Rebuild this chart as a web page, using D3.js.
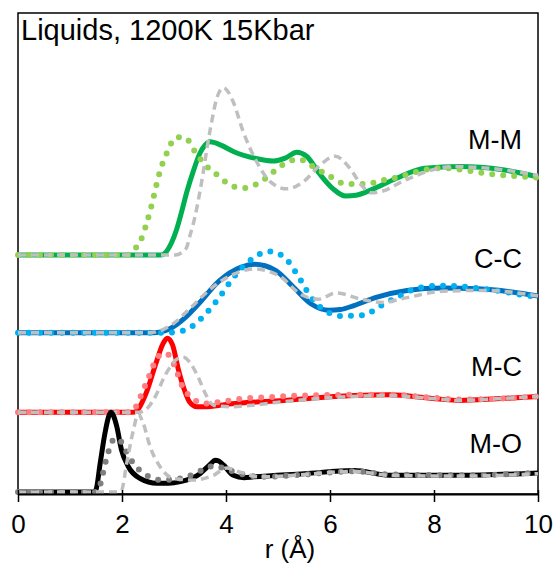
<!DOCTYPE html>
<html>
<head>
<meta charset="utf-8">
<script src="https://cdn.jsdelivr.net/npm/d3@7"></script>
<style>
  html, body { margin: 0; padding: 0; background: #fff; }
  svg { display: block; font-family: "Liberation Sans", Arial, sans-serif; }
</style>
</head>
<body>
<svg id="chart" width="555" height="567"></svg>
<script>
// ---------------- data (r in Å, value relative to panel baseline) ----------------
const xTicks = [0, 2, 4, 6, 8, 10];
const titleText = "Liquids, 1200K 15Kbar";
const xTitle = "r (Å)";
const panelLabels = ["M-O", "M-C", "C-C", "M-M"];
const panelOffsets = [0, 1, 2, 2.975];
const labelLevels = [0.49, 1.456, 2.81, 4.305];

// M-O
const moSolid = [[0,0],[1.45,0],[1.5,0.03],[1.58,0.36],[1.67,0.73],[1.75,0.96],[1.79,1.0],[1.84,0.95],[1.9,0.82],[1.99,0.53],[2.12,0.32],[2.35,0.17],[2.67,0.11],[2.9,0.11],[3.12,0.13],[3.5,0.23],[3.7,0.35],[3.79,0.4],[3.86,0.39],[3.95,0.34],[4.14,0.21],[4.35,0.18],[4.53,0.19],[5.5,0.23],[6.46,0.27],[7.14,0.21],[8.5,0.21],[10,0.24]];
const moDotted = [[0,0],[1.5,0],[1.55,0.04],[1.71,0.44],[1.83,0.65],[1.93,0.67],[2.06,0.53],[2.22,0.36],[2.47,0.21],[2.79,0.15],[3.24,0.19],[3.63,0.30],[3.76,0.33],[3.9,0.31],[4.08,0.27],[4.4,0.21],[4.72,0.19],[5.5,0.22],[6.46,0.26],[7.14,0.22],[8.5,0.21],[10,0.24]];
const moDashed = [[0,0],[1.92,0],[1.99,0.02],[2.09,0.36],[2.22,0.78],[2.31,0.98],[2.41,0.86],[2.54,0.57],[2.73,0.32],[2.99,0.17],[3.37,0.15],[3.76,0.21],[4.01,0.30],[4.27,0.25],[4.65,0.19],[5.5,0.22],[6.46,0.26],[7.14,0.21],[8.5,0.2],[10,0.23]];

// M-C
const mcSolid = [[0,0],[2.2,0],[2.27,0.01],[2.35,0.08],[2.47,0.25],[2.65,0.61],[2.78,0.85],[2.87,0.93],[2.97,0.85],[3.08,0.55],[3.19,0.3],[3.3,0.13],[3.44,0.07],[3.6,0.07],[4.0,0.10],[5.1,0.15],[6.46,0.21],[7.14,0.22],[8.03,0.17],[8.5,0.15],[9.2,0.17],[10,0.2]];
const mcDotted = [[0,0],[2.15,0],[2.25,0.05],[2.35,0.19],[2.5,0.42],[2.65,0.65],[2.78,0.74],[2.9,0.72],[3.0,0.6],[3.18,0.3],[3.33,0.19],[3.56,0.11],[3.88,0.13],[4.27,0.17],[4.78,0.19],[5.44,0.21],[6.46,0.22],[7.14,0.22],[8.03,0.18],[8.5,0.16],[9.2,0.17],[10,0.2]];
const mcDashed = [[0,0],[2.3,0],[2.45,0.03],[2.6,0.15],[2.85,0.49],[3.06,0.67],[3.18,0.69],[3.3,0.63],[3.46,0.45],[3.6,0.24],[3.76,0.09],[4.08,0.07],[4.52,0.09],[5.04,0.13],[6.46,0.2],[7.14,0.21],[8.03,0.17],[8.5,0.15],[9.2,0.17],[10,0.2]];

// C-C
const ccSolid = [[0,0],[2.6,0],[2.75,0.01],[2.92,0.05],[3.2,0.18],[3.47,0.36],[3.87,0.65],[4.28,0.82],[4.55,0.86],[4.75,0.84],[4.96,0.78],[5.3,0.57],[5.64,0.36],[5.98,0.28],[6.2,0.29],[6.46,0.34],[6.87,0.44],[7.48,0.53],[8.16,0.56],[8.84,0.55],[9.5,0.51],[10,0.46]];
const ccDotted = [[0,0],[2.85,0],[3.06,0.01],[3.33,0.07],[3.6,0.23],[3.87,0.44],[4.14,0.69],[4.49,0.92],[4.83,1.02],[5.1,0.96],[5.37,0.73],[5.64,0.44],[5.98,0.25],[6.22,0.21],[6.66,0.22],[6.93,0.32],[7.34,0.46],[7.68,0.56],[8.16,0.59],[9.18,0.53],[9.86,0.46],[10,0.45]];
const ccDashed = [[0,0],[2.55,0],[2.75,0.03],[3.0,0.12],[3.3,0.3],[3.74,0.57],[4.1,0.72],[4.55,0.80],[5.03,0.71],[5.44,0.48],[5.78,0.42],[6.12,0.50],[6.6,0.42],[7.0,0.38],[7.48,0.44],[8.16,0.52],[9.0,0.53],[10,0.46]];

// M-M
const mmSolid = [[0,0],[2.75,0],[2.85,0.04],[2.95,0.15],[3.05,0.32],[3.15,0.55],[3.25,0.8],[3.37,1.05],[3.5,1.28],[3.6,1.38],[3.69,1.42],[3.9,1.38],[4.14,1.30],[4.59,1.21],[4.91,1.18],[5.15,1.22],[5.36,1.29],[5.55,1.24],[5.81,1.01],[6.06,0.83],[6.3,0.74],[6.5,0.75],[6.8,0.82],[7.27,0.96],[7.82,1.09],[8.5,1.11],[9.32,1.07],[10,0.98]];
const mmDotted = [[0,0],[2.1,0],[2.15,0.03],[2.35,0.17],[2.54,0.55],[2.73,1.05],[2.89,1.32],[3.02,1.47],[3.15,1.48],[3.26,1.45],[3.40,1.30],[3.63,1.11],[3.82,1.01],[4.14,0.86],[4.33,0.84],[4.56,0.88],[4.78,0.97],[5.04,1.11],[5.23,1.18],[5.42,1.20],[5.62,1.13],[5.94,1.01],[6.32,0.89],[6.73,0.89],[6.93,0.93],[7.14,0.95],[7.48,1.01],[7.82,1.07],[8.16,1.09],[9.18,1.01],[10,0.97]];
const mmDashed = [[0,0],[3.02,0],[3.15,0.03],[3.24,0.09],[3.31,0.25],[3.4,0.47],[3.5,0.8],[3.69,1.55],[3.82,1.96],[3.95,2.1],[4.04,2.05],[4.14,1.92],[4.33,1.55],[4.59,1.17],[4.85,0.92],[5.17,0.83],[5.49,0.92],[5.81,1.13],[6.1,1.24],[6.38,1.09],[6.6,0.88],[6.8,0.78],[7.0,0.8],[7.48,0.95],[8.37,1.11],[9.04,1.09],[10,1.0]];

// ---------------- layout ----------------
(function () {
const svg = d3.select("#chart");
const plotL = 18, plotR = 538, plotT = 13, plotB = 494;

const x = d3.scaleLinear().domain([0, 10]).range([plotL, plotR]);
const y = d3.scaleLinear().domain([-0.025, 6.0125]).range([plotB, plotT]);

const panels = [
  { label: panelLabels[0], offset: panelOffsets[0], level: labelLevels[0], solid: moSolid, dotted: moDotted, dashed: moDashed, cSolid: "#000000", cDot: "#808080" },
  { label: panelLabels[1], offset: panelOffsets[1], level: labelLevels[1], solid: mcSolid, dotted: mcDotted, dashed: mcDashed, cSolid: "#FF0000", cDot: "#FF7C80" },
  { label: panelLabels[2], offset: panelOffsets[2], level: labelLevels[2], solid: ccSolid, dotted: ccDotted, dashed: ccDashed, cSolid: "#0070C0", cDot: "#00B0F0" },
  { label: panelLabels[3], offset: panelOffsets[3], level: labelLevels[3], solid: mmSolid, dotted: mmDotted, dashed: mmDashed, cSolid: "#00B050", cDot: "#92D050" }
];

// frame
svg.append("rect")
  .attr("x", plotL).attr("y", plotT)
  .attr("width", plotR - plotL).attr("height", plotB - plotT)
  .attr("fill", "none").attr("stroke", "#000").attr("stroke-width", 1.5);

const lineFor = off => d3.line()
  .x(d => x(d[0]))
  .y(d => y(d[1] + off))
  .curve(d3.curveMonotoneX);

const g = svg.append("g");
panels.slice().reverse().forEach(p => {
  const ln = lineFor(p.offset);
  g.append("path").datum(p.solid).attr("d", ln)
    .attr("fill", "none").attr("stroke", p.cSolid).attr("stroke-width", 5)
    .attr("stroke-linejoin", "round");
  g.append("path").datum(p.dotted).attr("d", ln)
    .attr("fill", "none").attr("stroke", p.cDot).attr("stroke-width", 6)
    .attr("stroke-linecap", "round").attr("stroke-dasharray", "0 11");
  g.append("path").datum(p.dashed).attr("d", ln)
    .attr("fill", "none").attr("stroke", "#BFBFBF").attr("stroke-width", 3.5)
    .attr("stroke-dasharray", "8 5");
});

// labels
panels.forEach(p => {
  svg.append("text")
    .attr("x", 522).attr("y", y(p.level))
    .attr("text-anchor", "end")
    .attr("font-size", 27).attr("fill", "#000")
    .text(p.label);
});

// x axis
const axis = svg.append("g")
  .attr("transform", `translate(0,${plotB})`)
  .call(d3.axisBottom(x).tickValues(xTicks).tickSize(8).tickSizeOuter(0).tickFormat(d3.format("d")));
axis.select(".domain").attr("stroke", "#000").attr("stroke-width", 2);
axis.selectAll(".tick line").attr("y1", -4).attr("y2", 8).attr("stroke", "#000").attr("stroke-width", 1.5);
axis.selectAll(".tick text")
  .attr("y", 20.5).attr("dy", "0.71em")
  .attr("font-size", 26).attr("font-family", "Liberation Sans, Arial, sans-serif").attr("fill", "#000");

// axis title
svg.append("text")
  .attr("x", 290).attr("y", 558)
  .attr("text-anchor", "middle")
  .attr("font-size", 26).attr("fill", "#000")
  .text(xTitle);

// chart title
svg.append("text")
  .attr("x", 21).attr("y", 40)
  .attr("font-size", 29).attr("fill", "#000")
  .text(titleText);
})();
</script>
</body>
</html>
